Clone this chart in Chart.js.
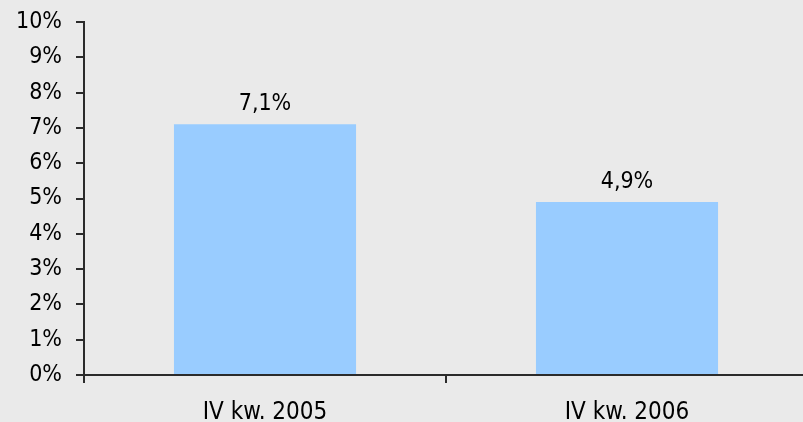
<!DOCTYPE html>
<html>
<head>
<meta charset="utf-8">
<script src="https://cdn.jsdelivr.net/npm/chart.js@4/dist/chart.umd.min.js"></script>
<style>
  html, body { margin: 0; padding: 0; background: #eaeaea; overflow: hidden; }
  #wrap { width: 803px; height: 422px; overflow: hidden; }
</style>
</head>
<body>
<div id="wrap"><canvas id="chart" width="808" height="422"></canvas></div>
<script>
const categories = ['IV kw. 2005', 'IV kw. 2006'];
const values = [7.1, 4.9];
const valueLabels = ['7,1%', '4,9%'];
const yTicks = [0, 1, 2, 3, 4, 5, 6, 7, 8, 9, 10];

const font = { family: '"DejaVu Sans Condensed", "DejaVu Sans"', size: 23 };
const xFont = { family: font.family, size: 24 };
const axisColor = '#2b2b2b';

// draws the value above each bar
const barLabels = {
  id: 'barLabels',
  afterDatasetsDraw(chart) {
    const ctx = chart.ctx;
    const meta = chart.getDatasetMeta(0);
    ctx.save();
    ctx.font = font.size + 'px ' + font.family;
    ctx.fillStyle = '#000';
    ctx.textAlign = 'center';
    ctx.textBaseline = 'alphabetic';
    meta.data.forEach((bar, i) => {
      ctx.fillText(valueLabels[i], bar.x, bar.y - 14);
    });
    ctx.restore();
  }
};

new Chart(document.getElementById('chart'), {
  type: 'bar',
  data: {
    labels: categories,
    datasets: [{
      data: values,
      backgroundColor: '#99ccff',
      categoryPercentage: 1,
      barPercentage: 0.503
    }]
  },
  options: {
    responsive: false,
    animation: false,
    layout: { padding: { top: 22, right: 0, left: 0, bottom: 0 } },
    plugins: { legend: { display: false }, tooltip: { enabled: false } },
    scales: {
      x: {
        grid: { display: true, drawOnChartArea: false, drawTicks: true, tickLength: 8, color: axisColor, lineWidth: 2, offset: true },
        border: { display: true, color: axisColor, width: 2 },
        ticks: { color: '#000', font: xFont, padding: 15, maxRotation: 0 },
        afterFit(axis) { axis.height = 47; axis.paddingLeft = 0; axis.paddingRight = 0; }
      },
      y: {
        min: 0,
        max: 10,
        afterBuildTicks(axis) { axis.ticks = yTicks.map(v => ({ value: v })); },
        grid: { display: true, drawOnChartArea: false, drawTicks: true, tickLength: 8, color: axisColor, lineWidth: 2 },
        border: { display: true, color: axisColor, width: 2 },
        ticks: { color: '#000', font: font, padding: 14, callback: v => v + '%' },
        afterFit(axis) { axis.width = 84; axis.paddingTop = 0; axis.paddingBottom = 0; }
      }
    }
  },
  plugins: [barLabels]
});
</script>
</body>
</html>
